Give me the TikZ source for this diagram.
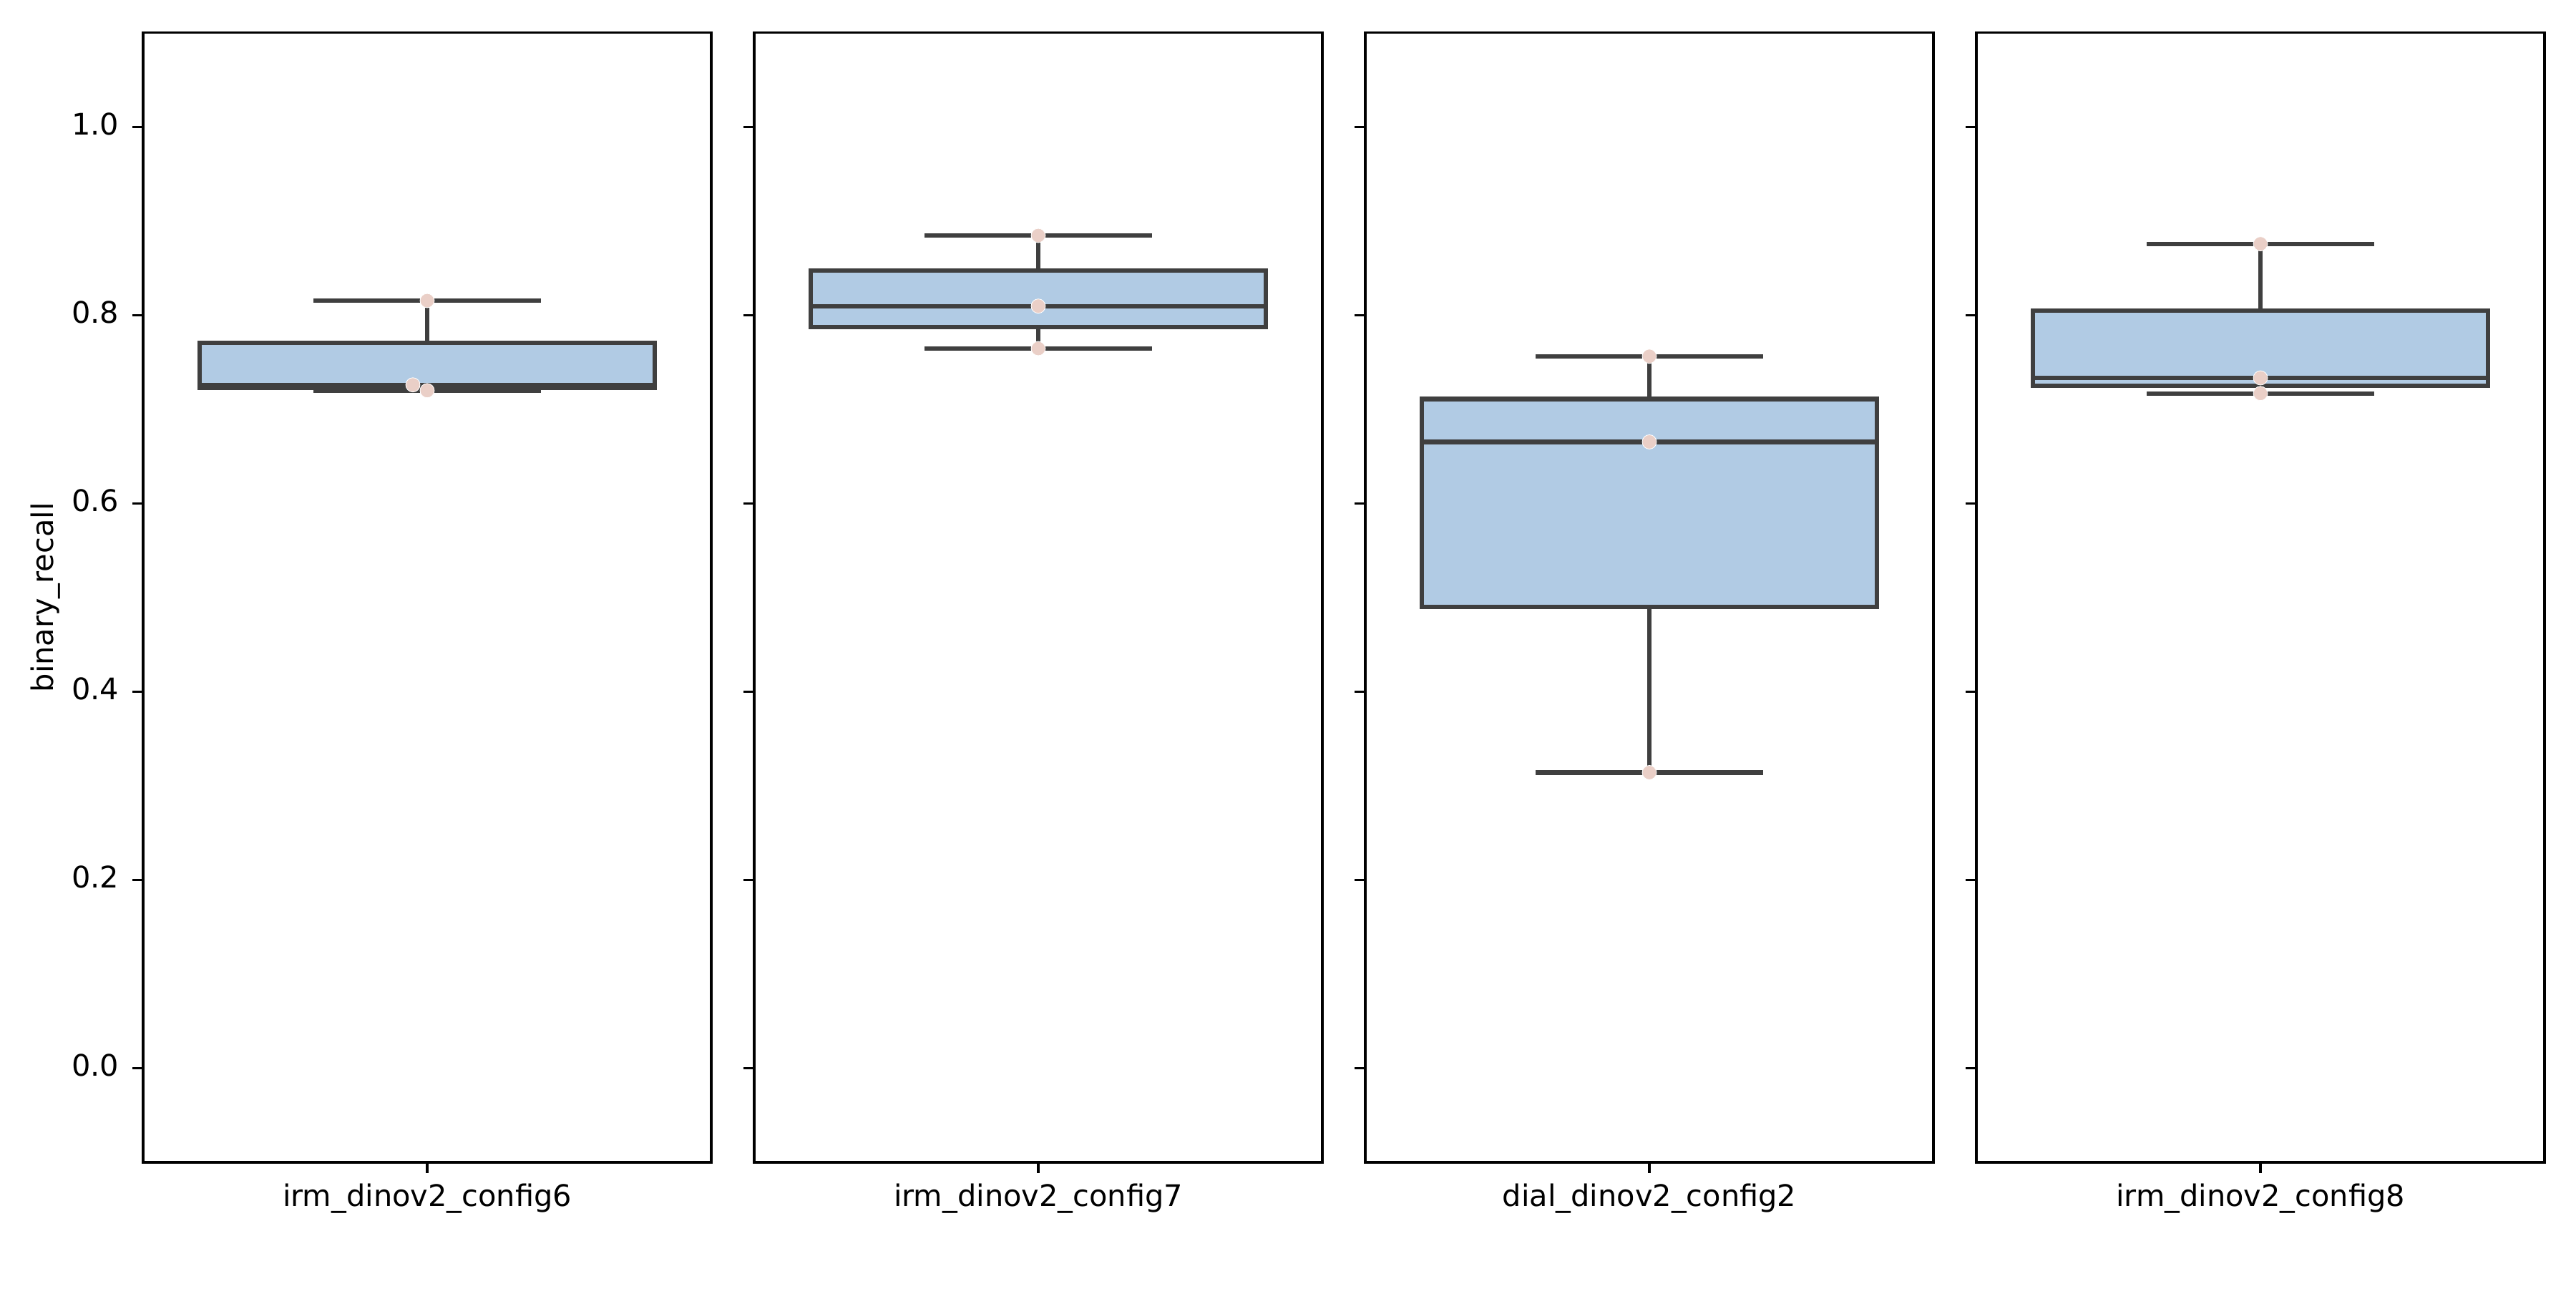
\documentclass[tikz,border=0pt]{standalone}
\usepackage{fontspec}
\setmainfont{DejaVu Sans}

\definecolor{boxfill}{HTML}{B1CBE4}
\definecolor{boxline}{HTML}{3F3F3F}
\definecolor{dotfill}{HTML}{EACFC7}

\tikzset{
	spine/.style = {black, line width=0.8pt},
	whisk/.style = {boxline, line width=1.5pt},
	dot/.style   = {circle, fill=dotfill, draw=white, line width=0.2pt, minimum size=4.8pt, inner sep=0pt},
	ticklab/.style = {inner sep=0pt, font=\fontsize{10}{12}\selectfont}
}

% center, low, q1, median, q3, high
\newcommand{\BoxPlot}[6]{%
	\draw[whisk] (#1,#2) -- (#1,#3) (#1,#5) -- (#1,#6);
	\draw[whisk] (#1-159,#2) -- (#1+159,#2) (#1-159,#6) -- (#1+159,#6);
	\draw[whisk, fill=boxfill] (#1-318,#3) rectangle (#1+318,#5);
	\draw[whisk] (#1-318,#4) -- (#1+318,#4);
}

\begin{document}
\begin{tikzpicture}[x=0.24088pt, y=316.76pt]
	\useasboundingbox (0,-0.23399) rectangle (3600,1.13483);
	% panels
	\foreach \l/\n in {200/A, 1054/B, 1908/C, 2762/D}{
		\draw[spine] (\l,-0.1) rectangle (\l+794,1.1);
		\foreach \v in {0.0,0.2,0.4,0.6,0.8,1.0}
			\draw[spine] (\l,\v) -- ++(-3.6pt,0);
		\draw[spine] (\l+397,-0.1) -- ++(0,-3.6pt);
	}
	\foreach \v in {0.0,0.2,0.4,0.6,0.8,1.0}
		\node[ticklab, anchor=mid east] at (167,\v) {\v};
	\node[ticklab, rotate=90] (Y) at (64,0.5) {binary\_recall};

	% boxes
	\BoxPlot{597}{0.7198}{0.7229}{0.7259}{0.7706}{0.8154}
	\BoxPlot{1451}{0.7645}{0.7871}{0.8096}{0.8471}{0.8846}
	\BoxPlot{2305}{0.3140}{0.4897}{0.6653}{0.7108}{0.7563}
	\BoxPlot{3159}{0.7168}{0.7251}{0.7333}{0.8046}{0.8758}

	% points
	\node[dot] (A1) at (597,0.8154) {};
	\node[dot] (A2) at (577,0.7259) {};
	\node[dot] (A3) at (597,0.7198) {};
	\node[dot] (B1) at (1451,0.8846) {};
	\node[dot] (B2) at (1451,0.8096) {};
	\node[dot] (B3) at (1451,0.7645) {};
	\node[dot] (C1) at (2305,0.7563) {};
	\node[dot] (C2) at (2305,0.6653) {};
	\node[dot] (C3) at (2305,0.3140) {};
	\node[dot] (D1) at (3159,0.8758) {};
	\node[dot] (D2) at (3159,0.7333) {};
	\node[dot] (D3) at (3159,0.7168) {};

	% labels
	\node[ticklab, anchor=north, yshift=-7.1pt] (A) at (597,-0.1) {irm\_dinov2\_config6};
	\node[ticklab, anchor=north, yshift=-7.1pt] (B) at (1451,-0.1) {irm\_dinov2\_config7};
	\node[ticklab, anchor=north, yshift=-7.1pt] (C) at (2305,-0.1) {dial\_dinov2\_config2};
	\node[ticklab, anchor=north, yshift=-7.1pt] (D) at (3159,-0.1) {irm\_dinov2\_config8};
\end{tikzpicture}
\end{document}
